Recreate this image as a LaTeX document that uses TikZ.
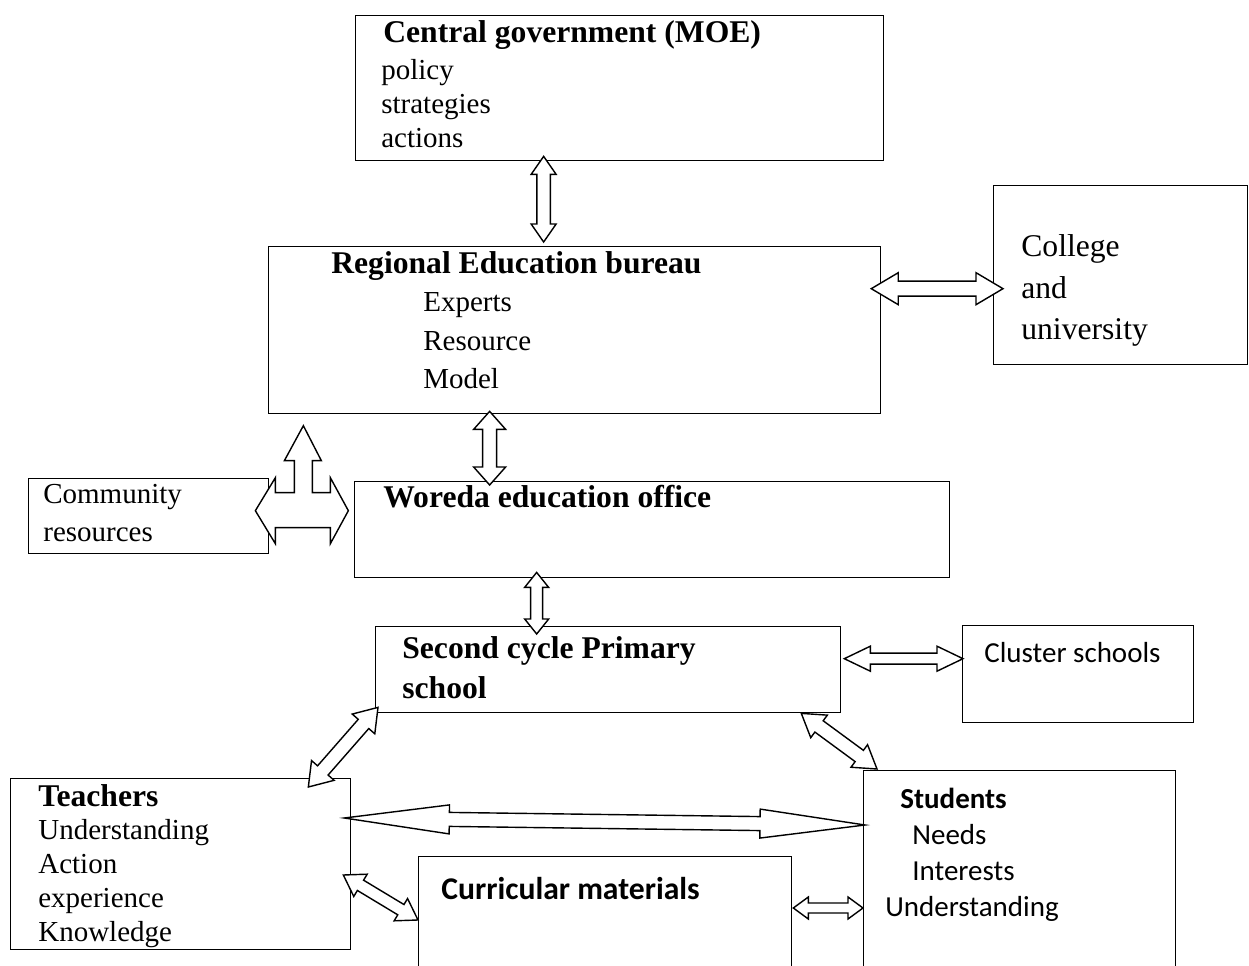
\documentclass[tikz,border=0pt]{standalone}
\usepackage{fontspec}
\setmainfont{Liberation Serif}
\newfontfamily\calibri{Carlito}
\usetikzlibrary{calc,positioning}
\newcommand{\headsize}{\fontsize{18}{21}\selectfont}
\newcommand{\txtsize}{\fontsize{16.5}{19}\selectfont}
\tikzset{
    block/.style = {draw, rectangle, line width=0.8pt, anchor=north west, inner sep=0pt},
    txt/.style = {anchor=base west, inner sep=0pt, font=\txtsize},
    head/.style = {anchor=base west, inner sep=0pt, font=\headsize\bfseries},
    hollow/.style = {draw, fill=white, line width=0.8pt, line join=miter}
}
% hollow double arrow: from, to, half shaft, half head, head length (in px)
\newcommand{\dblarrow}[5]{%
    \draw[hollow] (#1) -- ($(#1)!#5*0.02cm!(#2)!#4*0.02cm!90:(#2)$)
        -- ($(#1)!#5*0.02cm!(#2)!#3*0.02cm!90:(#2)$)
        -- ($(#2)!#5*0.02cm!(#1)!#3*0.02cm!-90:(#1)$)
        -- ($(#2)!#5*0.02cm!(#1)!#4*0.02cm!-90:(#1)$)
        -- (#2)
        -- ($(#2)!#5*0.02cm!(#1)!#4*0.02cm!90:(#1)$)
        -- ($(#2)!#5*0.02cm!(#1)!#3*0.02cm!90:(#1)$)
        -- ($(#1)!#5*0.02cm!(#2)!#3*0.02cm!-90:(#2)$)
        -- ($(#1)!#5*0.02cm!(#2)!#4*0.02cm!-90:(#2)$)
        -- cycle;
}
\begin{document}
\begin{tikzpicture}[x=0.02cm, y=-0.02cm]
    \useasboundingbox (0,0) rectangle (1249,966);
    % boxes
    \node [block, minimum width=10.56cm, minimum height=2.9cm] (moe) at (355,15) {};
    \node [block, minimum width=12.24cm, minimum height=3.34cm] (reg) at (268,246) {};
    \node [block, minimum width=5.08cm, minimum height=3.58cm] (coll) at (993,185) {};
    \node [block, minimum width=4.8cm, minimum height=1.5cm] (comm) at (28,478) {};
    \node [block, minimum width=11.9cm, minimum height=1.92cm] (wor) at (354,481) {};
    \node [block, minimum width=9.3cm, minimum height=1.72cm] (sec) at (375,626) {};
    \node [block, minimum width=4.62cm, minimum height=1.94cm] (clu) at (962,625) {};
    \node [block, minimum width=6.8cm, minimum height=3.42cm] (tea) at (10,778) {};
    \node [block, minimum width=6.24cm, minimum height=4.4cm] (stu) at (863,770) {};
    \node [block, minimum width=7.46cm, minimum height=2.68cm] (cur) at (418,856) {};
    % texts
    \node [head] (moet) at ([shift={(28,28)}]moe.north west) {Central government (MOE)};
    \foreach \t [count=\i] in {policy,strategies,actions}
        \node [txt] (moe\i) at ([shift={(26,31+34*\i)}]moe.north west) {\t};
    \node [head] (regt) at ([shift={(63,28)}]reg.north west) {Regional Education bureau};
    \foreach \t [count=\i] in {Experts,Resource,Model}
        \node [txt] (reg\i) at ([shift={(155,27.5+38.5*\i)}]reg.north west) {\t};
    \foreach \t [count=\i] in {College,and,university}
        \node [txt, font=\headsize] (coll\i) at ([shift={(28,30.5+41.5*\i)}]coll.north west) {\t};
    \foreach \t [count=\i] in {Community,resources}
        \node [txt] (comm\i) at ([shift={(15,-11+37*\i)}]comm.north west) {\t};
    \node [head] (wort) at ([shift={(29,27)}]wor.north west) {Woreda education office};
    \node [head] (sec1) at ([shift={(27,33)}]sec.north west) {Second cycle Primary};
    \node [head] (sec2) at ([shift={(27,72)}]sec.north west) {school};
    \node [txt, font=\txtsize\calibri] (clut) at ([shift={(22,38)}]clu.north west) {Cluster schools};
    \node [head] (teat) at ([shift={(28,28)}]tea.north west) {Teachers};
    \foreach \t [count=\i] in {Understanding,Action,experience,Knowledge}
        \node [txt] (tea\i) at ([shift={(28,27+34*\i)}]tea.north west) {\t};
    \node [txt, font=\txtsize\calibri\bfseries] (stut) at ([shift={(37,38)}]stu.north west) {Students};
    \node [txt, font=\txtsize\calibri] (stu1) at ([shift={(49,74)}]stu.north west) {Needs};
    \node [txt, font=\txtsize\calibri] (stu2) at ([shift={(49,110)}]stu.north west) {Interests};
    \node [txt, font=\txtsize\calibri] (stu3) at ([shift={(22,146)}]stu.north west) {Understanding};
    \node [txt, font=\headsize\calibri\bfseries] (curt) at ([shift={(23,43)}]cur.north west) {Curricular materials};
    % arrow ends
    \coordinate (a1s) at ($(moe.south)+(-76,-5)$);
    \coordinate (a1e) at ($(reg.north)+(-31,-4)$);
    \coordinate (a2s) at ($(reg.east)+(-10,-41.5)$);
    \coordinate (a2e) at ($(coll.west)+(10,13.5)$);
    \coordinate (a3s) at ($(reg.south)+(-85,-3)$);
    \coordinate (a3e) at ($(wor.north)+(-162.5,4)$);
    \coordinate (a4s) at ($(wor.south)+(-115.5,-6)$);
    \coordinate (a4e) at ($(sec.north)+(-71.5,8)$);
    \coordinate (a5s) at ($(sec.east)+(3,-11)$);
    \coordinate (a5e) at ($(clu.west)+(1,-15.5)$);
    \coordinate (a6s) at ($(sec.south west)+(3,-6)$);
    \coordinate (a6e) at ($(tea.north east)+(-43,9)$);
    \coordinate (a7s) at ($(sec.south east)+(-40,0)$);
    \coordinate (a7e) at ($(stu.north west)+(14,-1)$);
    \coordinate (a8s) at ($(tea.north east)+(-7,40)$);
    \coordinate (a8e) at ($(stu.north west)+(2,55)$);
    \coordinate (a9s) at ($(tea.north east)+(-8,97)$);
    \coordinate (a9e) at ($(cur.north west)+(0,64)$);
    \coordinate (a10s) at ($(cur.north east)+(1,52)$);
    \coordinate (a10e) at ($(stu.north west)+(0,138)$);
    \coordinate (tri) at ($(comm.east)+(34,-5.5)$);
    % arrows
    \dblarrow{a1s}{a1e}{6.7}{12.5}{18}
    \dblarrow{a2s}{a2e}{7.5}{16}{27}
    \dblarrow{a3s}{a3e}{7}{16}{18}
    \dblarrow{a4s}{a4e}{6}{12}{15}
    \dblarrow{a5s}{a5e}{5.5}{12.5}{26}
    \dblarrow{a6s}{a6e}{7}{15}{22}
    \dblarrow{a7s}{a7e}{7}{14}{22}
    \dblarrow{a8s}{a8e}{7}{14.5}{105}
    \dblarrow{a9s}{a9e}{6}{13}{20}
    \dblarrow{a10s}{a10e}{5}{11}{15}
    \draw [hollow, shift={(tri)}] (-48,0) -- (-28,-33) -- (-28,-18) -- (-9,-18) -- (-9,-50)
        -- (-19,-50) -- (0,-85) -- (18,-50) -- (9,-50) -- (9,-18) -- (27,-18) -- (27,-33)
        -- (45,0) -- (27,33) -- (27,17) -- (-28,17) -- (-28,33) -- cycle;
\end{tikzpicture}
\end{document}
